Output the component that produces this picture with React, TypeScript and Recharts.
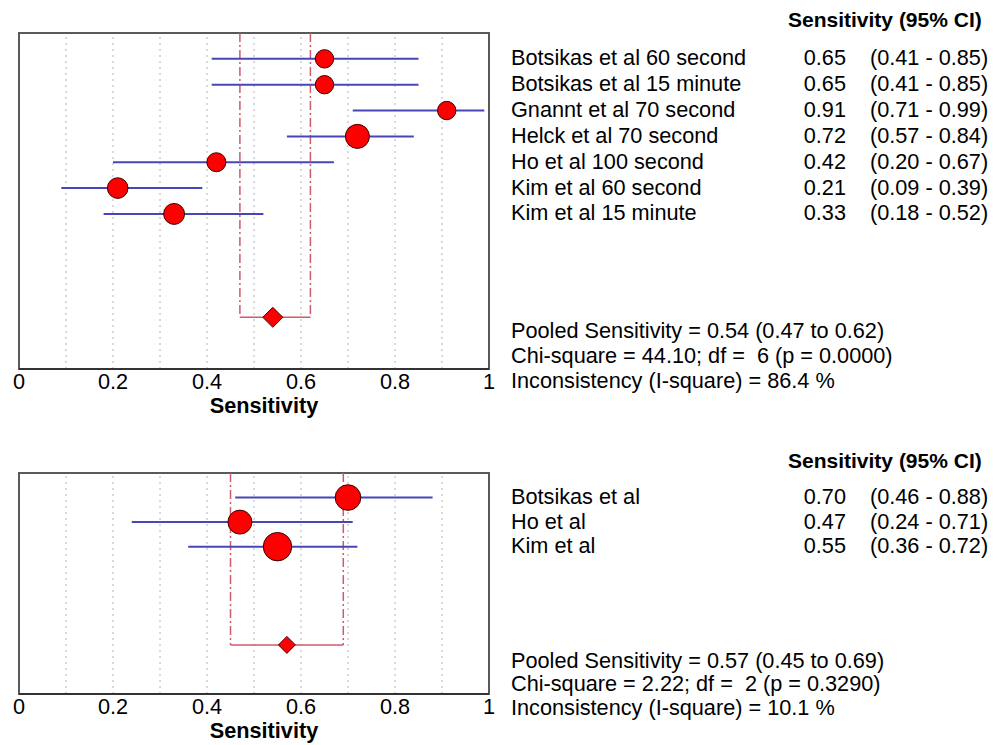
import {
  ErrorBar,
  Label,
  ReferenceArea,
  ReferenceLine,
  Scatter,
  ScatterChart,
  XAxis,
  YAxis,
  ZAxis,
} from "recharts";

const FONT = '"Liberation Sans", Arial, sans-serif';

const xTicks = [0, 0.2, 0.4, 0.6, 0.8, 1];
const gridValues = [0.1, 0.2, 0.3, 0.4, 0.5, 0.6, 0.7, 0.8, 0.9];

// time-point analysis
const topStudies = [
  "Botsikas et al 60 second",
  "Botsikas et al 15 minute",
  "Gnannt et al 70 second",
  "Helck et al 70 second",
  "Ho et al 100 second",
  "Kim et al 60 second",
  "Kim et al 15 minute",
];
const topSens = [0.65, 0.65, 0.91, 0.72, 0.42, 0.21, 0.33];
const topLow = [0.41, 0.41, 0.71, 0.57, 0.2, 0.09, 0.18];
const topHigh = [0.85, 0.85, 0.99, 0.84, 0.67, 0.39, 0.52];
const topWeights = [12.0, 12.0, 12.0, 20.5, 12.8, 15.1, 15.6];
const topPooled = [0.54, 0.47, 0.62];
const topStats = [
  "Pooled Sensitivity = 0.54 (0.47 to 0.62)",
  "Chi-square = 44.10; df =  6 (p = 0.0000)",
  "Inconsistency (I-square) = 86.4 %",
];

// per-study analysis
const bottomStudies = ["Botsikas et al", "Ho et al", "Kim et al"];
const bottomSens = [0.7, 0.47, 0.55];
const bottomLow = [0.46, 0.24, 0.36];
const bottomHigh = [0.88, 0.71, 0.72];
const bottomWeights = [32.2, 28.2, 39.6];
const bottomPooled = [0.57, 0.45, 0.69];
const bottomStats = [
  "Pooled Sensitivity = 0.57 (0.45 to 0.69)",
  "Chi-square = 2.22; df =  2 (p = 0.3290)",
  "Inconsistency (I-square) = 10.1 %",
];

type PanelProps = {
  studies: string[];
  sens: number[];
  low: number[];
  high: number[];
  weights: number[];
  pooled: number[];
  stats: string[];
  top: number;
  height: number;
  rowMax: number;
  pooledRow: number;
  zRange: [number, number];
  diamond: number;
  statTops: number[];
  headerTop: number;
};

function ForestPanel(p: PanelProps) {
  const data = p.sens.map((s, i) => ({
    x: s,
    y: i + 1,
    w: p.weights[i],
    err: [s - p.low[i], p.high[i] - s],
  }));
  const pooledData = [
    {
      x: p.pooled[0],
      y: p.pooledRow,
      err: [p.pooled[0] - p.pooled[1], p.pooled[2] - p.pooled[0]],
    },
  ];
  const rows = p.studies.map((_, i) => i + 1);

  const StudyTick = (props: any) => {
    const { x, y, payload } = props;
    const i = payload.value - 1;
    const common = { y, dy: 6.5, fontSize: 21.7, fontFamily: FONT, fill: "#000" };
    return (
      <g>
        <text x={x + 22} {...common}>
          {p.studies[i]}
        </text>
        <text x={x + 357} textAnchor="end" {...common}>
          {p.sens[i].toFixed(2)}
        </text>
        <text x={x + 381} {...common}>
          {`(${p.low[i].toFixed(2)} - ${p.high[i].toFixed(2)})`}
        </text>
      </g>
    );
  };

  const Diamond = (props: any) => {
    const { cx, cy } = props;
    const r = p.diamond;
    return (
      <polygon
        points={`${cx},${cy - r} ${cx + r},${cy} ${cx},${cy + r} ${cx - r},${cy}`}
        fill="#ff0000"
        stroke="#4a0000"
        strokeWidth={1}
      />
    );
  };

  const AxisTitle = (props: any) => {
    const vb = props.viewBox;
    return (
      <text
        x={vb.x + vb.width / 2 + 10}
        y={vb.y + vb.height - 6}
        textAnchor="middle"
        fontSize={21.7}
        fontWeight="bold"
        fontFamily={FONT}
        fill="#000"
      >
        Sensitivity
      </text>
    );
  };

  return (
    <div style={{ position: "absolute", left: 0, top: p.top, width: 1005, height: p.height }}>
      <ScatterChart
        width={1005}
        height={p.height}
        margin={{ top: 33, right: 0, bottom: 1, left: 19 }}
      >
        <XAxis
          type="number"
          dataKey="x"
          domain={[0, 1]}
          ticks={xTicks}
          interval={0}
          tickLine={false}
          tickSize={0}
          tickMargin={5}
          height={50}
          axisLine={{ stroke: "#333", strokeWidth: 2 }}
          tick={{ fill: "#000", fontSize: 21.7, fontFamily: FONT }}
        >
          <Label content={AxisTitle} />
        </XAxis>
        <YAxis
          type="number"
          dataKey="y"
          orientation="right"
          domain={[0, p.rowMax]}
          reversed
          ticks={rows}
          interval={0}
          width={516}
          axisLine={false}
          tickLine={false}
          tickSize={0}
          tickMargin={0}
          tick={StudyTick}
        />
        <ZAxis type="number" dataKey="w" domain={[0, 100]} range={p.zRange} />
        {gridValues.map((v) => (
          <ReferenceLine key={v} x={v} stroke="#b8b0b0" strokeDasharray="2 4" />
        ))}
        <ReferenceArea
          x1={0}
          x2={1}
          y1={0}
          y2={p.rowMax}
          fill="none"
          stroke="#5a5a5a"
          strokeWidth={2}
          fillOpacity={0}
          ifOverflow="visible"
        />
        {[p.pooled[1], p.pooled[2]].map((v) => (
          <ReferenceLine
            key={v}
            segment={[
              { x: v, y: 0 },
              { x: v, y: p.pooledRow },
            ]}
            stroke="#d2586c"
            strokeWidth={1.5}
            strokeDasharray="9 3 2 3"
          />
        ))}
        <Scatter data={data} fill="#ff0000" stroke="#3a0000" isAnimationActive={false}>
          <ErrorBar dataKey="err" direction="x" width={0} stroke="#4646b9" strokeWidth={2} />
        </Scatter>
        <Scatter data={pooledData} shape={Diamond} isAnimationActive={false}>
          <ErrorBar dataKey="err" direction="x" width={0} stroke="#d2586c" strokeWidth={1.5} />
        </Scatter>
      </ScatterChart>
      <div
        style={{
          position: "absolute",
          left: 788,
          top: p.headerTop,
          fontFamily: FONT,
          fontSize: 21,
          lineHeight: "21px",
          fontWeight: "bold",
          whiteSpace: "pre",
        }}
      >
        Sensitivity (95% CI)
      </div>
      {p.stats.map((s, i) => (
        <div
          key={s}
          style={{
            position: "absolute",
            left: 511,
            top: p.statTops[i],
            fontFamily: FONT,
            fontSize: 21.7,
            lineHeight: "21.7px",
            whiteSpace: "pre",
          }}
        >
          {s}
        </div>
      ))}
    </div>
  );
}

export default function App() {
  return (
    <div
      style={{
        position: "absolute",
        left: 0,
        top: 0,
        width: 1005,
        height: 745,
        background: "#fff",
        overflow: "hidden",
      }}
    >
      <ForestPanel
        studies={topStudies}
        sens={topSens}
        low={topLow}
        high={topHigh}
        weights={topWeights}
        pooled={topPooled}
        stats={topStats}
        top={0}
        height={420}
        rowMax={13}
        pooledRow={11}
        zRange={[0, 2212]}
        diamond={10}
        statTops={[319.5, 344.5, 369.5]}
        headerTop={9}
      />
      <ForestPanel
        studies={bottomStudies}
        sens={bottomSens}
        low={bottomLow}
        high={bottomHigh}
        weights={bottomWeights}
        pooled={bottomPooled}
        stats={bottomStats}
        top={440}
        height={305}
        rowMax={9}
        pooledRow={7}
        zRange={[0, 1602]}
        diamond={8.5}
        statTops={[209.5, 233, 256.5]}
        headerTop={9.5}
      />
    </div>
  );
}
